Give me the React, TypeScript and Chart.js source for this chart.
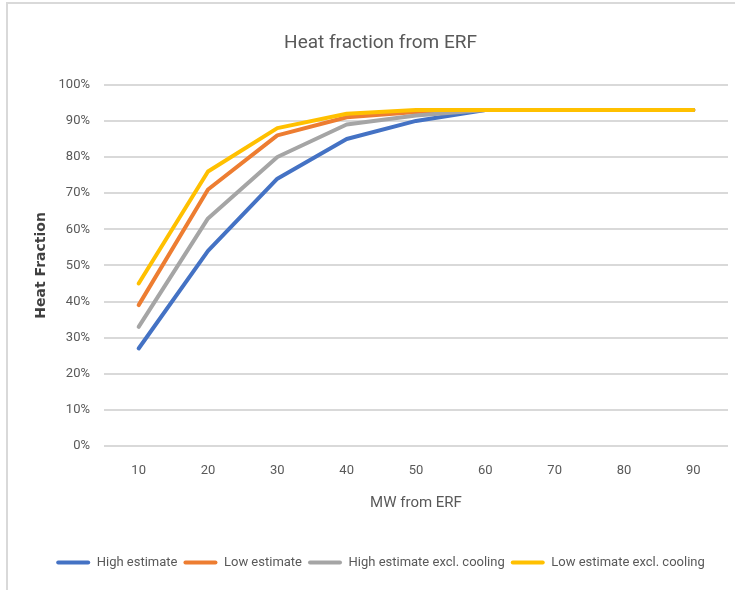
import React, { useEffect, useRef } from "react";
import { Chart, registerables } from "chart.js";

Chart.register(...registerables);

const categories = ["10", "20", "30", "40", "50", "60", "70", "80", "90"];
const highEstimate = [0.27, 0.54, 0.74, 0.85, 0.9, 0.93, 0.93, 0.93, 0.93];
const lowEstimate = [0.39, 0.71, 0.86, 0.91, 0.925, 0.93, 0.93, 0.93, 0.93];
const highExclCooling = [0.33, 0.63, 0.8, 0.89, 0.915, 0.93, 0.93, 0.93, 0.93];
const lowExclCooling = [0.45, 0.76, 0.88, 0.92, 0.93, 0.93, 0.93, 0.93, 0.93];
const seriesNames = ["High estimate", "Low estimate", "High estimate excl. cooling", "Low estimate excl. cooling"];
const seriesColors = ["#4472C4", "#ED7D31", "#A5A5A5", "#FFC000"];

const FONT = "Roboto, 'Open Sans', sans-serif";
const TEXT = "#595959";
const GRID = "#d9d9d9";

export default function App() {
  const canvasRef = useRef<HTMLCanvasElement | null>(null);

  useEffect(() => {
    if (!canvasRef.current) return;
    const values = [highEstimate, lowEstimate, highExclCooling, lowExclCooling];
    const chart = new Chart(canvasRef.current, {
      type: "line",
      data: {
        labels: categories,
        datasets: values.map((v, i) => ({
          label: seriesNames[i],
          data: v,
          borderColor: seriesColors[i],
          backgroundColor: seriesColors[i],
          borderWidth: 4,
          pointRadius: 0,
          pointHoverRadius: 0,
          tension: 0,
          borderCapStyle: "round" as const,
          borderJoinStyle: "round" as const,
          // later series are painted on top
          order: values.length - i,
        })),
      },
      options: {
        animation: false,
        responsive: false,
        maintainAspectRatio: false,
        layout: { padding: { left: 33, right: 7, top: 0, bottom: 11 } },
        plugins: {
          title: {
            display: true,
            text: "Heat fraction from ERF",
            color: TEXT,
            font: { family: FONT, size: 19, weight: "normal" },
            padding: { top: 32, bottom: 30 },
          },
          legend: {
            position: "bottom",
            labels: {
              color: TEXT,
              font: { family: FONT, size: 13 },
              boxWidth: 34,
              boxHeight: 4,
              padding: 6,
              sort: (a, b) => (a.datasetIndex ?? 0) - (b.datasetIndex ?? 0),
              generateLabels: (c) =>
                Chart.defaults.plugins.legend.labels.generateLabels(c).map((l) => ({
                  ...l,
                  lineWidth: 0,
                  borderRadius: 2,
                })),
            },
          },
          tooltip: { enabled: false },
        },
        scales: {
          x: {
            offset: true,
            grid: { display: false, drawTicks: false },
            border: { display: false },
            ticks: { color: TEXT, font: { family: FONT, size: 13 }, padding: 17 },
            title: {
              display: true,
              text: "MW from ERF",
              color: TEXT,
              font: { family: FONT, size: 15 },
              padding: { top: 0, bottom: 38 },
            },
            afterFit: (scale) => {
              scale.height = 104;
            },
          },
          y: {
            min: 0,
            max: 1,
            grid: { color: GRID, lineWidth: 2, drawTicks: false },
            border: { display: false },
            ticks: {
              stepSize: 0.1,
              color: TEXT,
              font: { family: FONT, size: 13 },
              padding: 14,
              callback: (v) => `${Math.round(Number(v) * 100)}%`,
            },
            title: {
              display: true,
              text: "Heat Fraction",
              color: "#404040",
              font: { family: "'DejaVu Sans', sans-serif", size: 14, weight: "bold" },
              padding: { top: 0, bottom: 0 },
            },
            afterFit: (scale) => {
              scale.width = 71;
            },
          },
        },
      },
    });
    return () => chart.destroy();
  }, []);

  return (
    <div style={{ position: "absolute", left: 0, top: 0, width: 735, height: 590, background: "#fff" }}>
      <div
        style={{
          position: "absolute",
          left: 6,
          top: 2,
          right: 0,
          bottom: 0,
          borderTop: `2px solid ${GRID}`,
          borderLeft: `2px solid ${GRID}`,
        }}
      />
      <canvas ref={canvasRef} width={735} height={590} style={{ position: "absolute", left: 0, top: 0 }} />
    </div>
  );
}
